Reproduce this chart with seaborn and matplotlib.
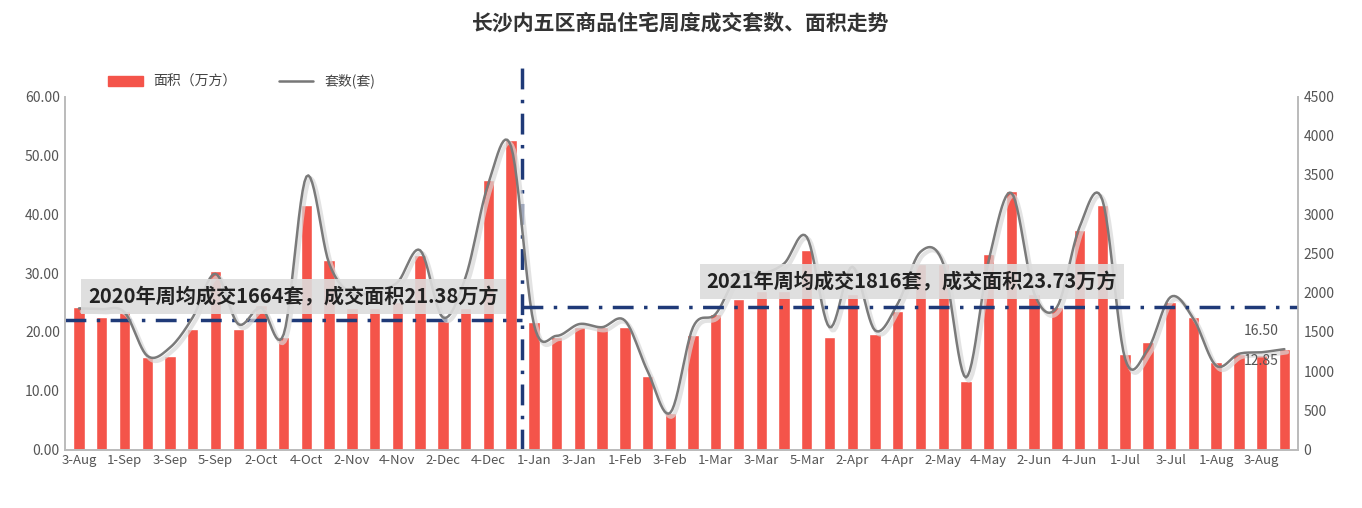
import numpy as np
import pandas as pd
import matplotlib
matplotlib.use("Agg")
import matplotlib.pyplot as plt
import seaborn as sns

labels_2020 = ["3-Aug","1-Sep","3-Sep","5-Sep","2-Oct","4-Oct","2-Nov","4-Nov","2-Dec","4-Dec"]
labels_2021 = ["1-Jan","3-Jan","1-Feb","3-Feb","1-Mar","3-Mar","5-Mar","2-Apr","4-Apr","2-May",
               "4-May","2-Jun","4-Jun","1-Jul","3-Jul","1-Aug","3-Aug"]
area_2020 = [24.2,22.5,23.6,15.8,15.9,20.5,30.4,20.5,24.5,19.2,41.5,32.3,24.0,24.0,25.0,33.1,21.8,24.0,45.8,52.6]
area_2021 = [21.6,19.1,20.8,20.8,20.8,12.5,6.3,19.4,23.0,25.6,27.0,27.0,33.9,19.1,26.5,19.7,23.6,31.6,31.6,11.7,
             33.3,43.9,26.5,24.2,37.3,41.6,16.2,18.2,25.1,22.5,14.8,16.2,16.0,17.1]
count_2020 = [1800,1790,1750,1195,1300,1685,2240,1600,1810,1470,3480,2370,1985,2030,2130,2540,1685,2200,3390,3860]
count_2021 = [1600,1450,1600,1560,1645,1000,470,1560,1730,2240,2240,2370,2710,1560,2330,1520,1860,2520,2370,920,
              2410,3270,1990,1815,2840,3180,1155,1280,1945,1670,1070,1220,1240,1280]
mean_area_2020 = 21.38
mean_count_2020 = 1664
mean_count_2021 = 1816
mean_area_2021 = 23.73

area = area_2020 + area_2021
count = count_2020 + count_2021
n = len(area)
ticklabels = []
for lab in labels_2020 + labels_2021:
    ticklabels += [lab, ""]
ticklabels = ticklabels[:n]
df = pd.DataFrame({"x": np.arange(n), "area": area, "count": count})

sns.set_theme(style="white")
plt.rcParams['font.family'] = ['Noto Sans CJK SC', 'DejaVu Sans']

fig = plt.figure(figsize=(13.62, 5.08), dpi=100)
ax = fig.add_axes([0.048, 0.115, 0.905, 0.695])
ax2 = ax.twinx()

bar_c = "#f4544a"
sns.barplot(data=df, x="x", y="area", color=bar_c, width=0.5, ax=ax, saturation=1, native_scale=True)
ax.set_xlim(-0.6, n - 0.4)
ax.set_ylim(0, 60)
ax2.set_ylim(0, 4500)

# smooth rendering of the count line (Catmull-Rom through the data points)
xs = df["x"].to_numpy(float); ys = df["count"].to_numpy(float)
px = np.concatenate([[xs[0]], xs, [xs[-1]]]); py = np.concatenate([[ys[0]], ys, [ys[-1]]])
sx, sy = [], []
for i in range(1, len(px) - 2):
    t = np.linspace(0, 1, 12, endpoint=False)[:, None]
    P = [np.array([px[j], py[j]]) for j in range(i - 1, i + 3)]
    c = 0.5 * ((2 * P[1]) + (-P[0] + P[2]) * t + (2 * P[0] - 5 * P[1] + 4 * P[2] - P[3]) * t**2
               + (-P[0] + 3 * P[1] - 3 * P[2] + P[3]) * t**3)
    sx += list(c[:, 0]); sy += list(c[:, 1])
sx.append(xs[-1]); sy.append(ys[-1])
ax2.plot(np.array(sx) + 0.12, np.array(sy) - 40, color="#d8d8d8", lw=3.0, alpha=0.7)
sns.lineplot(x=sx, y=sy, ax=ax2, color="#7a7a7a", lw=1.8, sort=False, estimator=None)

navy = "#1f3a78"
split = len(area_2020) - 0.5
ax.plot([-0.6, split], [22.0, 22.0], color=navy, lw=2.5, ls=(0, (6, 3, 1, 3)))
ax2.plot([split, n - 0.4], [mean_count_2021, mean_count_2021], color=navy, lw=2.5, ls=(0, (6, 3, 1, 3)))
ax.axvline(split, ymin=0, ymax=1.1, color=navy, lw=2.5, ls=(0, (6, 3, 1, 3)), clip_on=False)

box = dict(boxstyle="square,pad=0.35", fc="#dcdcdc", ec="none", alpha=0.9)
ax2.text(0.4, 26.0 * 75, f"2020年周均成交{mean_count_2020}套，成交面积{mean_area_2020}万方", fontsize=14.5,
         fontweight="bold", color="#222222", va="center", ha="left", bbox=box, zorder=10)
ax2.text(27.6, 28.5 * 75, f"2021年周均成交{mean_count_2021}套，成交面积{mean_area_2021}万方", fontsize=14.5,
         fontweight="bold", color="#222222", va="center", ha="left", bbox=box, zorder=10)
ax2.text(n - 2, 19.5 * 75, "16.50", fontsize=10, color="#555555", ha="center", zorder=10)
ax2.text(n - 2, 14.3 * 75, "12.85", fontsize=10, color="#555555", ha="center", zorder=10)

ax.set_xticks(np.arange(n))
ax.set_xticklabels(ticklabels, fontsize=9.5, color="#555555", rotation=0)
ax.set_yticks(np.arange(0, 61, 10))
ax.set_yticklabels([f"{v:.2f}" for v in range(0, 61, 10)], fontsize=10, color="#555555")
ax2.set_yticks(np.arange(0, 4501, 500))
ax2.set_yticklabels([str(v) for v in range(0, 4501, 500)], fontsize=10, color="#555555")
ax.set_xlabel(""); ax.set_ylabel(""); ax2.set_ylabel("")
for a in (ax, ax2):
    a.spines["top"].set_visible(False)
    for s in ("left", "right", "bottom"):
        a.spines[s].set_color("#bbbbbb")
    a.tick_params(length=0, pad=4)
ax.tick_params(axis="x", pad=3)

fig.text(0.5, 0.955, "长沙内五区商品住宅周度成交套数、面积走势", ha="center", va="center",
         fontsize=15, fontweight="bold", color="#333333")
from matplotlib.patches import Patch
from matplotlib.lines import Line2D
fig.legend(handles=[Patch(color=bar_c, label="面积（万方）"), Line2D([], [], color="#777777", lw=1.8, label="套数(套)")],
           loc="center left", bbox_to_anchor=(0.07, 0.84), ncol=2, frameon=False, fontsize=10,
           handlelength=2.5, columnspacing=3, labelcolor="#444444")
fig.savefig("out.png", dpi=100)
